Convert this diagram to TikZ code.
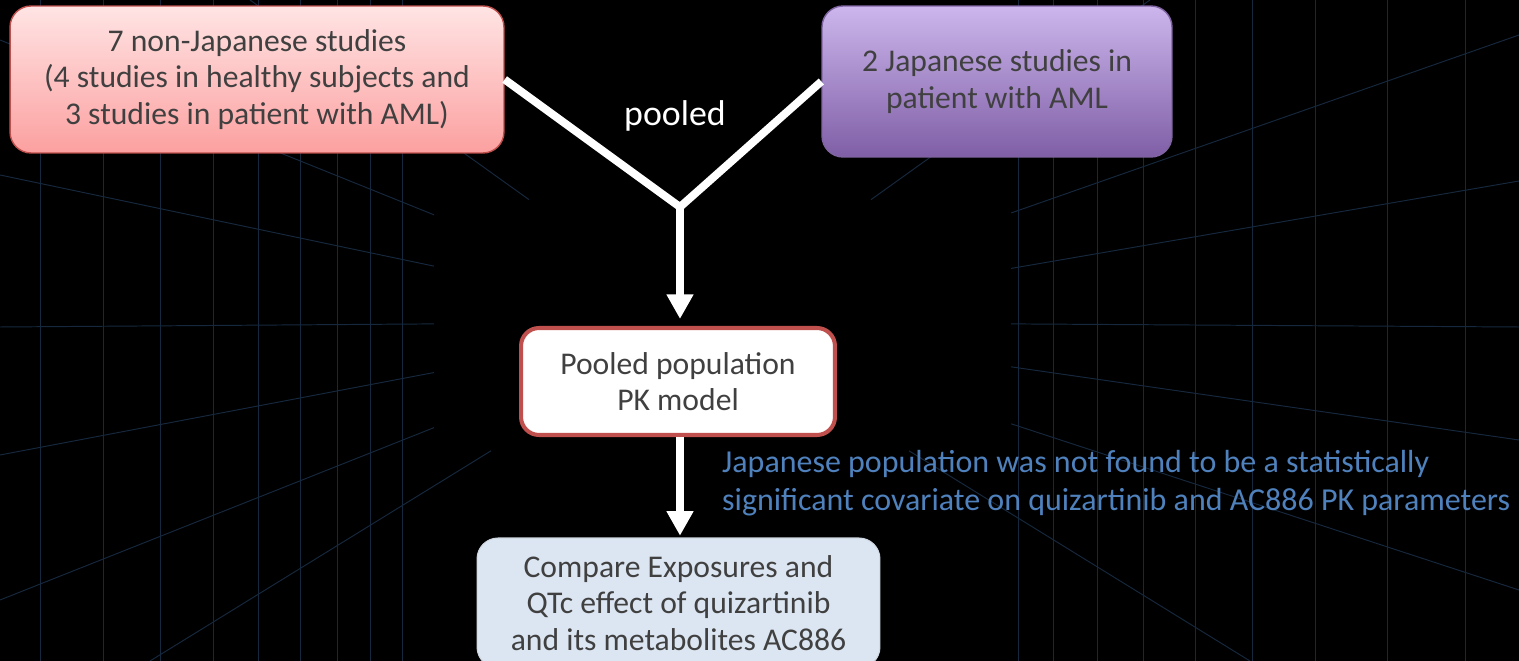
\documentclass[tikz,border=0pt]{standalone}
\usepackage{fontspec}
\setmainfont{Carlito}
\usetikzlibrary{arrows.meta,calc}

\definecolor{txtgray}{RGB}{64,64,64}
\definecolor{boxred}{RGB}{192,80,77}
\definecolor{pinktop}{RGB}{255,228,228}
\definecolor{pinkbot}{RGB}{252,160,160}
\definecolor{boxpurple}{RGB}{128,100,162}
\definecolor{purptop}{RGB}{204,182,236}
\definecolor{purpbot}{RGB}{127,94,166}
\definecolor{paleblue}{RGB}{220,230,242}
\definecolor{notblue}{RGB}{79,129,189}
\definecolor{gridblue}{RGB}{22,40,62}

\begin{document}
\begin{tikzpicture}[x=0.02cm, y=-0.02cm, > = {Triangle[width=14.5pt, length=14pt]}]
    \tikzstyle{box}=[rounded corners=0.42cm, align=center, text=txtgray, font=\fontsize{18}{20.8}\selectfont]
    \tikzstyle{wline}=[white, line width=4.5pt]
    \tikzstyle{gridline}=[gridblue, line width=0.55pt]

    % Fundo
    \fill[black] (0,0) rectangle (1519,661);
    \useasboundingbox (0,0) rectangle (1519,661);
    \coordinate (vp) at (700,322);
    \foreach \gx in {40,103,160,213,258,300,337,370,402,1018,1053,1097,1143,1195,1252,1315,1387,1465}
        \draw[gridline] (\gx,0) -- (\gx,661);
    \foreach \bx/\by in {0/40,0/175,0/327,0/455,0/600,1519/35,1519/181,1519/327,1519/440,1519/590,250/0,1150/0,150/661,1250/661}
        \draw[gridline] (\bx,\by) -- ($(\bx,\by)!0.62!(vp)$);

    % Caixas
    \node[box, draw=boxred, line width=0.8pt, top color=pinktop, bottom color=pinkbot,
          minimum width=9.88cm, minimum height=2.94cm, text depth=3pt] (nonjp) at (257,79.5)
          {7 non-Japanese studies\\(4 studies in healthy subjects and\\3 studies in patient with AML)};
    \node[box, draw=boxpurple, line width=0.8pt, top color=purptop, bottom color=purpbot,
          minimum width=7cm, minimum height=3.02cm] (jp) at (997,81.5)
          {2 Japanese studies in\\patient with AML};
    \node[box, draw=boxred, line width=2.3pt, fill=white,
          minimum width=6.28cm, minimum height=2.14cm, rounded corners=0.36cm] (popk) at (678,381.5)
          {Pooled population\\PK model};
    \node[box, draw=paleblue!85!gray, line width=0.6pt, fill=paleblue,
          minimum width=8.06cm, minimum height=2.6cm] (comp) at (678.5,603)
          {Compare Exposures and\\QTc effect of quizartinib\\and its metabolites AC886};

    % Setas
    \coordinate (join) at (680,207);
    \draw[wline, line join=miter] (nonjp.east) -- (join) -- (jp.west);
    \draw[wline, ->, shorten > = 4pt] (join) -- (join |- popk.north);
    \draw[wline, ->, shorten > = 1pt] (join |- popk.south) -- (join |- comp.north);

    % Textos
    \node[white, font=\fontsize{20.4}{24}\selectfont] (pooled) at (675,116) {pooled};
    \node[anchor=west, align=left, text=notblue, font=\fontsize{18.2}{22}\selectfont] (note) at (716,483)
        {Japanese population was not found to be a statistically\\significant covariate on quizartinib and AC886 PK parameters};
\end{tikzpicture}
\end{document}
